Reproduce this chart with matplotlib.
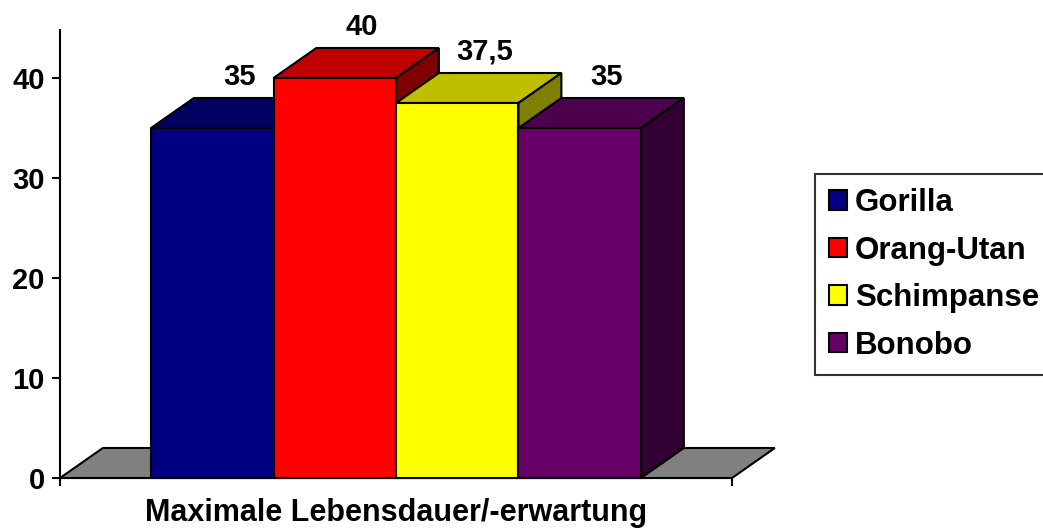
import matplotlib
matplotlib.use("Agg")
import matplotlib.pyplot as plt
from matplotlib.patches import Polygon, Rectangle
from matplotlib.colors import to_rgb

# =========================================================
# Daten
# =========================================================
categories = ["Gorilla", "Orang-Utan", "Schimpanse", "Bonobo"]
values = [35, 40, 37.5, 35]
value_labels = ["35", "40", "37,5", "35"]
front_colors = ["#000080", "#FF0000", "#FFFF00", "#660066"]
y_ticks = [0, 10, 20, 30, 40]
x_label = "Maximale Lebensdauer/-erwartung"

plt.rcParams["font.family"] = ["Liberation Sans", "DejaVu Sans"]
plt.rcParams["font.weight"] = "bold"

# 3D-Tiefe (in Datenkoordinaten)
DX = 0.35
DY = 3.0
BAR_W = 1.0
X_MAX = 5.486
Y_MAX = 44.8
FS = 21


def shade(color, f):
    r, g, b = to_rgb(color)
    return (r * f, g * f, b * f)


fig = plt.figure(figsize=(10.43, 5.30), dpi=100)
ax = fig.add_axes([60 / 1043, 52 / 530, 672 / 1043, 448 / 530])
ax.set_xlim(0, X_MAX)
ax.set_ylim(0, Y_MAX)

# Boden
floor = Polygon([(0, 0), (X_MAX, 0), (X_MAX + DX, DY), (DX, DY)],
                closed=True, facecolor="#808080", edgecolor="black",
                linewidth=1.5, clip_on=False, zorder=1)
ax.add_patch(floor)

# Balken (von links nach rechts gezeichnet)
start = (X_MAX - BAR_W * len(values)) / 2
for i, (v, c) in enumerate(zip(values, front_colors)):
    x0 = start + i * BAR_W
    x1 = x0 + BAR_W
    top = Polygon([(x0, v), (x1, v), (x1 + DX, v + DY), (x0 + DX, v + DY)],
                  closed=True, facecolor=shade(c, 0.75), edgecolor="black",
                  linewidth=1.5, clip_on=False, zorder=2 + i)
    side = Polygon([(x1, 0), (x1 + DX, DY), (x1 + DX, v + DY), (x1, v)],
                   closed=True, facecolor=shade(c, 0.5), edgecolor="black",
                   linewidth=1.5, clip_on=False, zorder=2 + i)
    front = Rectangle((x0, 0), BAR_W, v, facecolor=c, edgecolor="black",
                      linewidth=1.5, clip_on=False, zorder=2 + i)
    ax.add_patch(top)
    ax.add_patch(side)
    ax.add_patch(front)
    ax.text(x0 + BAR_W / 2 + 0.22, v + DY + 2.1, value_labels[i],
            ha="center", va="center", fontsize=FS, fontweight="bold",
            zorder=10)

# Achsen
for s in ["top", "right"]:
    ax.spines[s].set_visible(False)
ax.spines["left"].set_linewidth(1.5)
ax.spines["bottom"].set_linewidth(1.5)
ax.spines["bottom"].set_zorder(0)
ax.set_yticks(y_ticks)
ax.set_xticks([0, X_MAX])
ax.set_xticklabels([])
ax.tick_params(axis="y", direction="out", length=6, width=1.5,
               labelsize=FS, pad=5)
ax.tick_params(axis="x", direction="out", length=6, width=1.5)
for lab in ax.get_yticklabels():
    lab.set_fontweight("bold")
ax.set_xlabel(x_label, fontsize=22, fontweight="bold", labelpad=5)

# Legende
handles = [Rectangle((0, 0), 1, 1, facecolor=c, edgecolor="black",
                     linewidth=1.5) for c in front_colors]
leg = fig.legend(handles, categories, loc="upper left",
                 bbox_to_anchor=(815 / 1043, 1 - 174 / 530),
                 bbox_transform=fig.transFigure,
                 prop={"size": 22.5, "weight": "bold"},
                 frameon=True, fancybox=False,
                 handlelength=0.58, handleheight=0.58, handletextpad=0.25,
                 labelspacing=0.56, borderpad=0.45, borderaxespad=0)
leg.get_frame().set_edgecolor("black")
leg.get_frame().set_linewidth(1.5)

fig.savefig("out.png", dpi=100)
